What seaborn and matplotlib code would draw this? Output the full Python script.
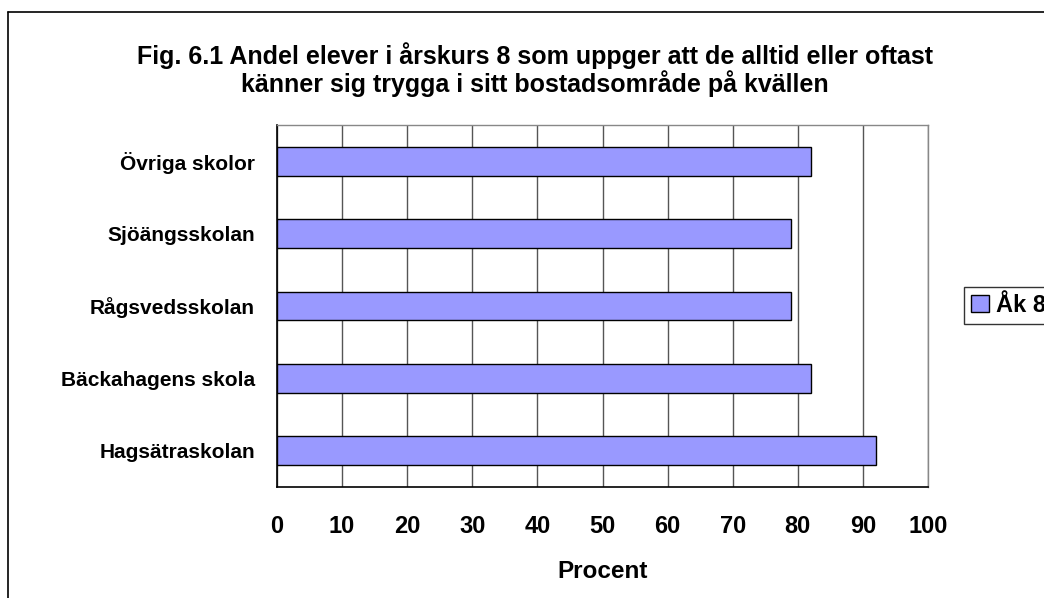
import matplotlib
matplotlib.use("Agg")
import matplotlib.pyplot as plt
import seaborn as sns
import pandas as pd
from matplotlib.lines import Line2D
from matplotlib.ticker import FixedLocator

categories = ["Övriga skolor", "Sjöängsskolan", "Rågsvedsskolan", "Bäckahagens skola", "Hagsätraskolan"]
values = [82, 79, 79, 82, 92]
series_name = "Åk 8"
x_ticks = [0, 10, 20, 30, 40, 50, 60, 70, 80, 90, 100]
title = "Fig. 6.1 Andel elever i årskurs 8 som uppger att de alltid eller oftast\nkänner sig trygga i sitt bostadsområde på kvällen"
x_label = "Procent"

sns.set_style("white")
plt.rcParams['font.family'] = ['Liberation Sans', 'DejaVu Sans']
plt.rcParams['font.weight'] = 'bold'
for k in ['text.color', 'axes.labelcolor', 'xtick.color', 'ytick.color']:
    plt.rcParams[k] = 'black'

df = pd.DataFrame({"Skola": categories, "Procent": values})

fig = plt.figure(figsize=(10.44, 5.98), dpi=100)
ax = fig.add_axes([277/1044, 1 - 487/598, (928 - 277)/1044, (487 - 125)/598])

sns.barplot(data=df, x="Procent", y="Skola", orient="h", color="#9999FF",
            edgecolor="black", linewidth=1.0, width=0.4, label=series_name,
            saturation=1, ax=ax, legend=False)

ax.set_xlim(0, 100)
ax.set_ylim(len(categories) - 0.5, -0.5)
ax.set_xticks(x_ticks)
ax.set_xticklabels([str(t) for t in x_ticks], fontsize=17, fontweight='bold')
ax.set_yticks(range(len(categories)))
ax.set_yticklabels(categories, fontsize=15, fontweight='bold')
ax.yaxis.set_minor_locator(FixedLocator([i - 0.5 for i in range(len(categories) + 1)]))
ax.tick_params(axis='y', which='major', length=0, pad=16)
ax.tick_params(axis='y', which='minor', length=6, width=1, color='black', direction='out')
ax.tick_params(axis='x', which='major', length=5, width=1, color='black', direction='out', pad=15)
ax.set_ylabel("")
ax.set_xlabel(x_label, fontsize=17.5, fontweight='bold', labelpad=16)

ax.grid(axis='x', color='#555555', linewidth=1.0)
ax.set_axisbelow(True)
for s in ['left', 'bottom']:
    ax.spines[s].set_color('black')
    ax.spines[s].set_linewidth(1.2)
for s in ['top', 'right']:
    ax.spines[s].set_color('#888888')
    ax.spines[s].set_linewidth(1.0)

fig.text(535/1044, 1 - 70/598, title, ha='center', va='center', fontsize=18,
         fontweight='bold', linespacing=1.05)

handle = plt.Rectangle((0, 0), 1, 1, facecolor="#9999FF", edgecolor="black", linewidth=1)
fig.legend([handle], [series_name], loc='center left',
           bbox_to_anchor=(964/1044, 1 - 305.5/598), frameon=True, fancybox=False,
           edgecolor='black', prop={'weight': 'bold', 'size': 17},
           handlelength=0.75, handleheight=0.75, handletextpad=0.3, borderpad=0.3,
           borderaxespad=0)

# outer chart border (left and top visible)
fig.add_artist(Line2D([8/1044, 8/1044], [0, 1 - 12/598], transform=fig.transFigure, color='black', linewidth=1.2))
fig.add_artist(Line2D([8/1044, 1], [1 - 12/598, 1 - 12/598], transform=fig.transFigure, color='black', linewidth=1.2))

fig.savefig("out.png", dpi=100)
